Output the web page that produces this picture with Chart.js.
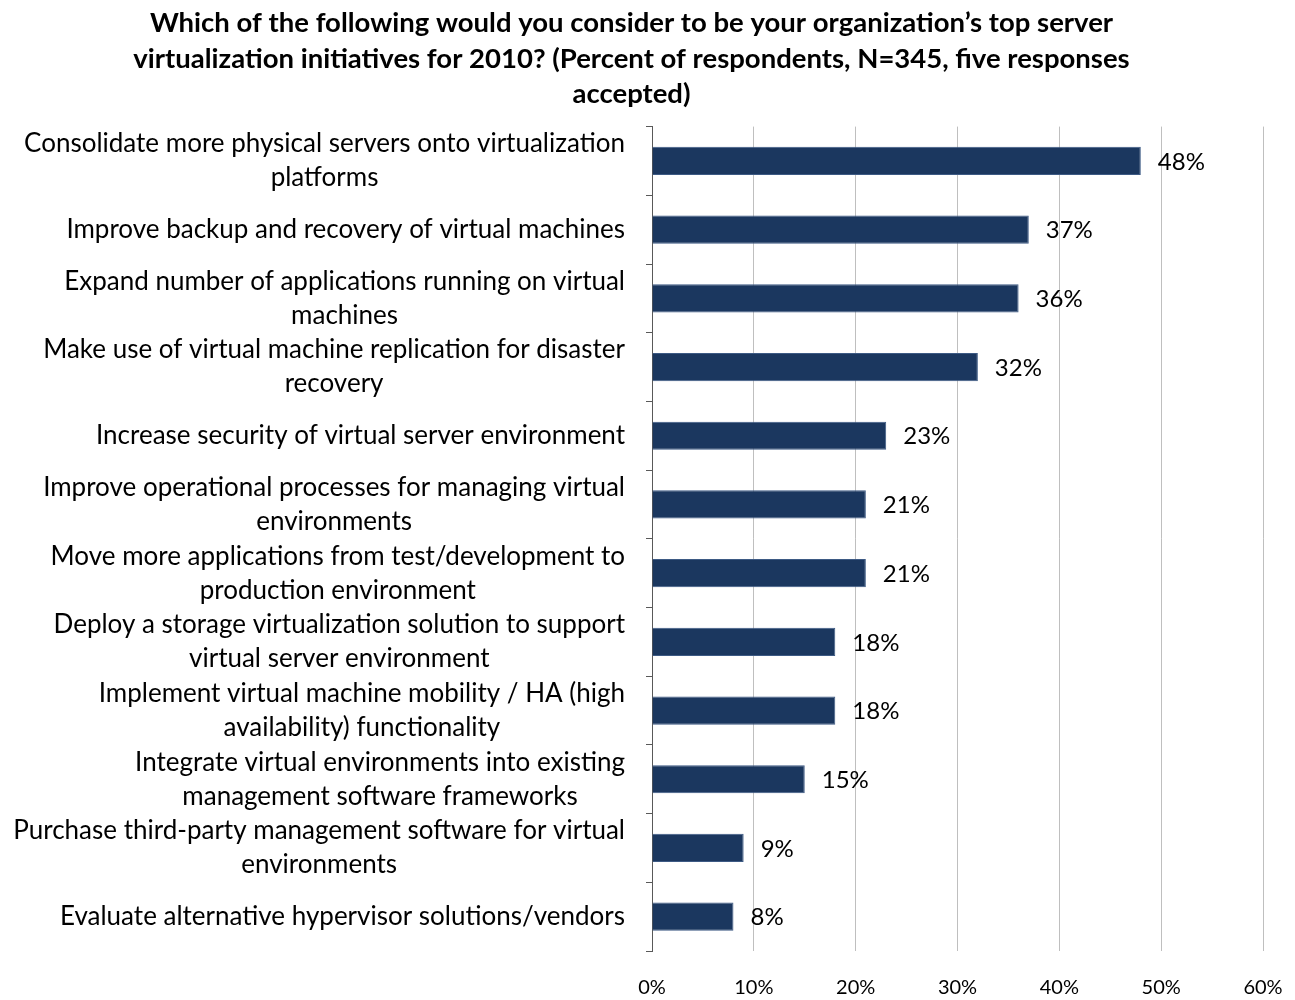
<!DOCTYPE html>
<html>
<head>
<meta charset="utf-8">
<script src="https://cdn.jsdelivr.net/npm/chart.js@4.4.1/dist/chart.umd.min.js"></script>
<style>
  body { margin: 0; background: #fff; }
  canvas { display: block; }
</style>
</head>
<body>
<canvas id="chart" width="1295" height="1000"></canvas>
<script>
var titleLines = [
    "Which of the following would you consider to be your organization\u2019s top server",
    "virtualization initiatives for 2010? (Percent of respondents, N=345, five responses",
    "accepted)"
];

var categories = [
    ["Consolidate more physical servers onto virtualization", "platforms"],
    ["Improve backup and recovery of virtual machines"],
    ["Expand number of applications running on virtual", "machines"],
    ["Make use of virtual machine replication for disaster", "recovery"],
    ["Increase security of virtual server environment"],
    ["Improve operational processes for managing virtual", "environments"],
    ["Move more applications from test/development to", "production environment"],
    ["Deploy a storage virtualization solution to support", "virtual server environment"],
    ["Implement virtual machine mobility / HA (high", "availability) functionality"],
    ["Integrate virtual environments into existing", "management software frameworks"],
    ["Purchase third-party management software for virtual", "environments"],
    ["Evaluate alternative hypervisor solutions/vendors"]
];

var percents = [48, 37, 36, 32, 23, 21, 21, 18, 18, 15, 9, 8];

var xTicks = [0, 10, 20, 30, 40, 50, 60];

var FONT = "Lato, 'Open Sans', sans-serif";

// y labels: block is right aligned, lines inside are centred (like the Excel original)
var labelPlugin = {
    id: 'centredLabels',
    afterDraw: function(chart) {
        var ctx = chart.ctx;
        var yScale = chart.scales.y;
        var right = chart.chartArea.left - 27;
        ctx.save();
        ctx.font = "26px " + FONT;
        ctx.fillStyle = "#000";
        ctx.textAlign = "center";
        ctx.textBaseline = "middle";
        var lineH = 34;
        categories.forEach(function(lines, i) {
            var y = yScale.getPixelForTick(i);
            var w = 0;
            lines.forEach(function(l) { w = Math.max(w, ctx.measureText(l).width); });
            var cx = right - w / 2;
            var top = y - (lines.length - 1) * lineH / 2;
            lines.forEach(function(l, k) {
                ctx.fillText(l, cx, top + k * lineH);
            });
        });
        ctx.restore();
    }
};

// value labels to the right of each bar
var valuePlugin = {
    id: 'valueLabels',
    afterDatasetsDraw: function(chart) {
        var ctx = chart.ctx;
        var meta = chart.getDatasetMeta(0);
        ctx.save();
        ctx.font = "24px " + FONT;
        ctx.fillStyle = "#000";
        ctx.textAlign = "left";
        ctx.textBaseline = "middle";
        meta.data.forEach(function(bar, i) {
            ctx.fillText(percents[i] + "%", bar.x + 17, bar.y + 1);
        });
        ctx.restore();
    }
};

var ctx = document.getElementById('chart').getContext('2d');
var chart = new Chart(ctx, {
    type: 'bar',
    data: {
        labels: categories,
        datasets: [{
            data: percents,
            backgroundColor: '#1b375f',
            borderColor: '#3d5a84',
            borderWidth: 1,
            categoryPercentage: 1,
            barPercentage: 0.41
        }]
    },
    options: {
        indexAxis: 'y',
        responsive: false,
        animation: false,
        layout: { padding: { left: 0, right: 32, top: 0, bottom: 0 } },
        plugins: {
            legend: { display: false },
            tooltip: { enabled: false },
            title: {
                display: true,
                text: titleLines,
                color: '#000',
                font: { family: FONT, size: 27.5, weight: 'bold', lineHeight: 1.28 },
                padding: { top: 6, bottom: 15 }
            }
        },
        scales: {
            x: {
                min: 0,
                max: 60,
                afterBuildTicks: function(scale) {
                    scale.ticks = xTicks.map(function(v) { return { value: v }; });
                },
                afterFit: function(scale) {
                    scale.height = 49;
                    scale.paddingLeft = 0;
                    scale.paddingRight = 0;
                },
                grid: { color: '#bfbfbf', lineWidth: 1, drawTicks: false },
                border: { display: false },
                ticks: {
                    padding: 25,
                    color: '#000',
                    font: { family: FONT, size: 20 },
                    callback: function(v) { return v + '%'; }
                }
            },
            y: {
                afterFit: function(scale) {
                    scale.width = 652;
                    scale.paddingTop = 0;
                    scale.paddingBottom = 0;
                },
                grid: {
                    offset: true,
                    drawOnChartArea: false,
                    tickLength: 6,
                    color: '#595959'
                },
                border: { display: true, color: '#595959' },
                ticks: { color: 'rgba(0,0,0,0)', font: { family: FONT, size: 22 } }
            }
        }
    },
    plugins: [labelPlugin, valuePlugin]
});
</script>
</body>
</html>
